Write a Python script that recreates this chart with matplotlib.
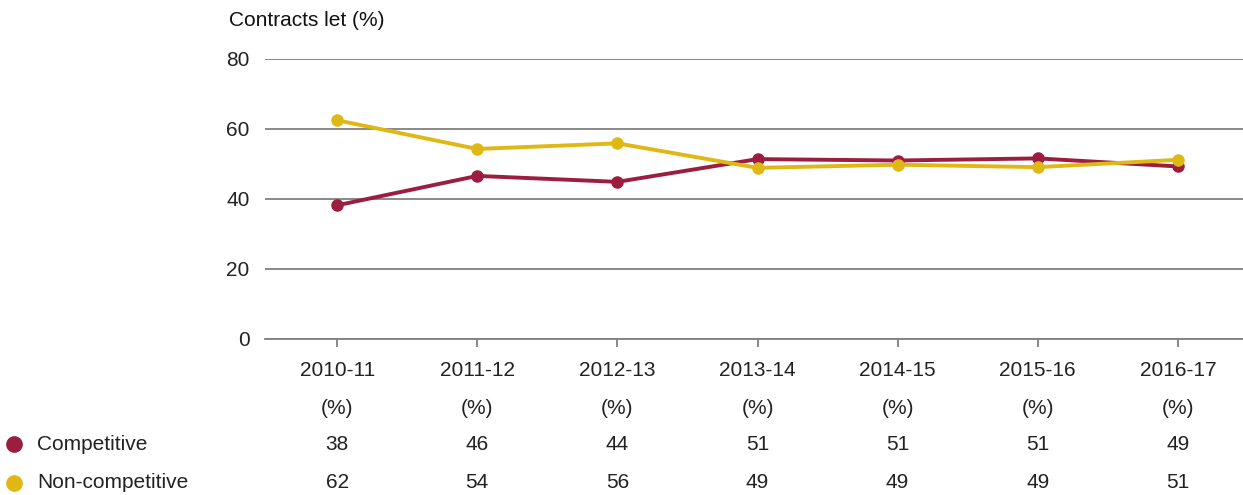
import matplotlib
matplotlib.use("Agg")
import matplotlib.pyplot as plt
import numpy as np

# Data
years = ["2010-11", "2011-12", "2012-13", "2013-14", "2014-15", "2015-16", "2016-17"]
competitive = [38.2, 46.6, 44.9, 51.4, 51.0, 51.6, 49.3]
non_competitive = [62.5, 54.3, 55.9, 48.9, 49.8, 49.1, 51.2]
competitive_table = [38, 46, 44, 51, 51, 51, 49]
non_competitive_table = [62, 54, 56, 49, 49, 49, 51]
yticks = [0, 20, 40, 60, 80]

red = "#9b1d40"
yellow = "#e0b816"
grid = "#808080"
txt = "#222222"

plt.rcParams["font.family"] = ["Liberation Sans", "DejaVu Sans"]
fs = 15

W, H = 1243, 495
fig = plt.figure(figsize=(W / 100, H / 100), dpi=100)
# axes box in pixel terms: left 265, right 1243, top 59, bottom 339
ax = fig.add_axes([265 / W, 1 - 339 / H, (1243 - 265) / W, (339 - 59) / H])

x = np.arange(len(years))
ax.plot(x, competitive, color=red, lw=2.8, marker="o", ms=8, zorder=3)
ax.plot(x, non_competitive, color=yellow, lw=2.8, marker="o", ms=8, zorder=4)

ax.set_ylim(0, 80)
ax.set_xlim(-0.515, 6.465)
ax.set_yticks(yticks)
ax.set_yticklabels([str(v) for v in yticks], fontsize=fs, color=txt)
ax.yaxis.grid(True, color=grid, lw=1.3)
ax.set_axisbelow(True)
ax.tick_params(axis="y", length=0, pad=11)
for s in ["top", "right", "left"]:
    ax.spines[s].set_visible(False)
ax.spines["bottom"].set_color(grid)
ax.spines["bottom"].set_linewidth(1.3)

ax.set_xticks(x)
ax.set_xticklabels(years, fontsize=fs, color=txt)
ax.tick_params(axis="x", length=6, color=grid, width=1.3, pad=10)

fig.text(229 / W, 1 - 21 / H, "Contracts let (%)", fontsize=fs, color="#111111",
         ha="left", va="center")

# table rows under the chart
trans = ax.get_xaxis_transform()
rows = [(408, ["(%)"] * len(years)),
        (444, [str(v) for v in competitive_table]),
        (483, [str(v) for v in non_competitive_table])]
for ypix, labels in rows:
    yax = (339 - ypix) / (339 - 59)
    for xi, lab in zip(x, labels):
        ax.text(xi, yax, lab, transform=trans, ha="center", va="center",
                fontsize=fs, color=txt, clip_on=False)

# legend at the left
for ypix, col, lab in [(444, red, "Competitive"), (483, yellow, "Non-competitive")]:
    fig.lines.append(plt.Line2D([14 / W], [1 - ypix / H], marker="o", ms=11,
                                color=col, transform=fig.transFigure, lw=0))
    fig.text(37 / W, 1 - ypix / H, lab, fontsize=fs, color=txt, ha="left", va="center")

fig.savefig("out.png", dpi=100)
